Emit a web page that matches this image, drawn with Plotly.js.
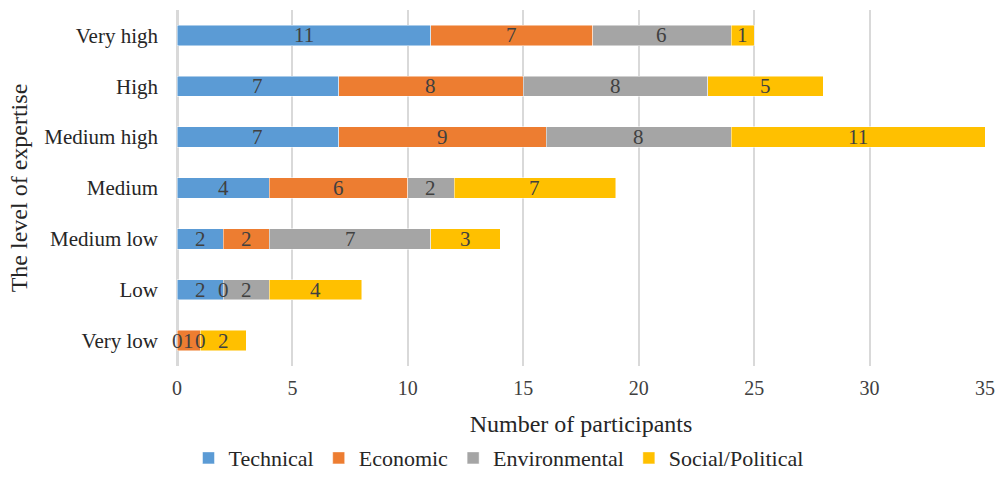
<!DOCTYPE html>
<html><head><meta charset="utf-8">
<script src="https://cdn.plot.ly/plotly-3.0.1.min.js"></script>
<style>body{margin:0;background:#fff}#chart{width:997px;height:499px}</style>
</head><body><div id="chart"></div>
<script>
const categories = ["Very high","High","Medium high","Medium","Medium low","Low","Very low"];
const technical = [11,7,7,4,2,2,0];
const economic = [7,8,9,6,2,0,1];
const environmental = [6,8,8,2,7,2,0];
const social = [1,5,11,7,3,4,2];
const seriesNames = ["Technical","Economic","Environmental","Social/Political"];
const seriesColors = ["#5b9bd5","#ed7d31","#a5a5a5","#ffc000"];
const seriesData = [technical, economic, environmental, social];

const font = "Liberation Serif, Times New Roman, serif";
const traces = seriesData.map((vals,i)=>({
  type:'bar', orientation:'h', name:seriesNames[i], y:categories, x:vals,
  marker:{color:seriesColors[i], line:{color:'rgba(255,255,255,0.6)', width:0.8}},
  hoverinfo:'x+name', textposition:'none'
}));

const annotations = [];
const cum = categories.map(()=>0);
seriesData.forEach(vals=>{
  vals.forEach((v,j)=>{
    annotations.push({x:cum[j]+v/2, y:categories[j], xref:'x', yref:'y', text:String(v),
      showarrow:false, font:{family:font, size:21, color:'#404040'}});
    cum[j]+=v;
  });
});

const layout = {
  width:997, height:499, barmode:'stack', bargap:0.6,
  paper_bgcolor:'#fff', plot_bgcolor:'#fff',
  margin:{l:177, r:12, t:10, b:133},
  font:{family:font, size:20, color:'#404040'},
  xaxis:{range:[0,35], dtick:5, showgrid:true, gridcolor:'#d9d9d9', gridwidth:2,
    zeroline:true, zerolinecolor:'#d9d9d9', zerolinewidth:3, showline:false, automargin:false,
    ticklabelstandoff:8, tickfont:{family:font,size:20,color:'#404040'},
    title:{text:'Number of participants', font:{family:font,size:24,color:'#262626'}, standoff:17}},
  yaxis:{categoryorder:'array', categoryarray:categories, autorange:'reversed', automargin:false,
    showgrid:false, zeroline:false, ticklabelstandoff:18,
    tickfont:{family:font,size:21,color:'#262626'},
    title:{text:'The level of expertise', font:{family:font,size:24,color:'#262626'}, standoff:9}},
  legend:{orientation:'h', x:0.5, xref:'container', xanchor:'center', y:0.082, yref:'container', yanchor:'middle',
    font:{family:font,size:22,color:'#262626'}, traceorder:'normal', itemwidth:30},
  annotations:annotations, showlegend:true
};
Plotly.newPlot('chart', traces, layout, {displayModeBar:false});
</script></body></html>
